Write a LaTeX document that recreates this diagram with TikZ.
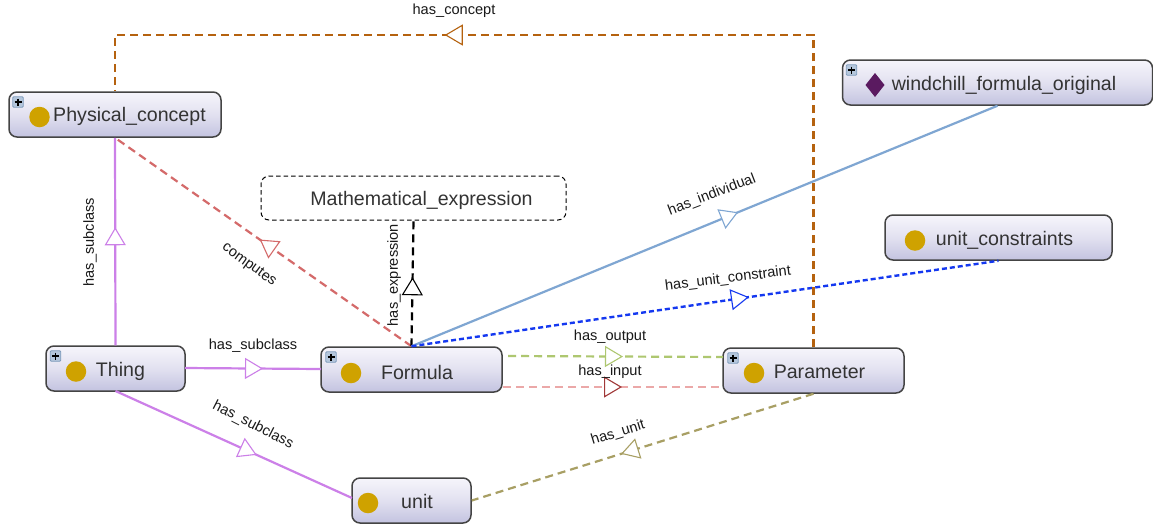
\documentclass[tikz,border=0pt]{standalone}
\usepackage{fontspec}
\setmainfont{Liberation Sans}
\usetikzlibrary{arrows.meta,decorations.markings,calc}
\definecolor{cgold}{HTML}{CFA200}
\definecolor{cplum}{HTML}{5A1A60}
\definecolor{cpurple}{HTML}{CC80E8}
\definecolor{cred}{HTML}{D46A6A}
\definecolor{csoft}{HTML}{7FA6D2}
\definecolor{cblue}{HTML}{1438F0}
\definecolor{cgreen}{HTML}{AEC770}
\definecolor{cpink}{HTML}{EBA8A8}
\definecolor{cdarkred}{HTML}{A03838}
\definecolor{cbrown}{HTML}{B5620F}
\definecolor{colive}{HTML}{A89F64}
\definecolor{cedge}{HTML}{444444}
\definecolor{ctop}{HTML}{F6F5FB}
\definecolor{cmid}{HTML}{E2E1F0}
\definecolor{cbot}{HTML}{C3C3E0}
\definecolor{cplusf}{HTML}{B4C6DC}
\definecolor{cplusd}{HTML}{7F9CBC}
\tikzset{
  box/.style={draw=cedge,line width=1.5pt,rounded corners=8pt,inner sep=0pt,top color=ctop,bottom color=cbot,middle color=cmid},
  dashbox/.style={draw=black,line width=1pt,dash pattern=on 4.5pt off 3pt,rounded corners=8pt,inner sep=0pt},
  plus/.style={draw=cplusd,fill=cplusf,line width=0.8pt,minimum size=10.5pt,inner sep=0pt,rounded corners=1pt},
  dot/.style={circle,fill=cgold,minimum size=20.5pt,inner sep=0pt},
  diam/.style={fill=cplum,draw=none},
  nlabel/.style={font=\fontsize{19.6}{22}\selectfont,text=black!80,inner sep=0pt},
  elabel/.style={font=\fontsize{14.6}{17}\selectfont,text=black!90,inner sep=0pt},
  dsh/.style={dash pattern=on 8pt off 5pt},
  tri/.style n args={2}{postaction={decorate,decoration={markings,mark=at position #1 with {\arrow[solid]{Triangle[open,fill=white,length=18pt,width=21pt,line width=1.1pt,color=#2,fill=white]}}}}}
}
\newcommand{\plusmark}[2]{\draw[black,line width=1.1pt] (#1-3.5,#2) -- (#1+3.5,#2) (#1,#2-3.5) -- (#1,#2+3.5);}
\begin{document}
\begin{tikzpicture}[x=1pt,y=-1pt]
\useasboundingbox (0,0) rectangle (1153,523);
\fill[white] (0,0) rectangle (1153,523);
\node[box,minimum width=212pt,minimum height=45pt] (pc) at (115,114.5) {};
\node[box,minimum width=139pt,minimum height=45pt] (th) at (115.5,368.5) {};
\node[box,minimum width=181pt,minimum height=45pt] (fo) at (411.5,369.5) {};
\node[box,minimum width=181pt,minimum height=45pt] (pa) at (813.5,370.5) {};
\node[box,minimum width=119pt,minimum height=45pt] (un) at (411.5,500.5) {};
\node[box,minimum width=227pt,minimum height=45pt] (uc) at (998.5,237.5) {};
\node[box,minimum width=310pt,minimum height=45pt] (wi) at (997.5,82.5) {};
\node[dashbox,minimum width=305pt,minimum height=44pt] (me) at (413.5,198) {};
\coordinate (foR) at (508,356);
\coordinate (paL) at (723,357);
\coordinate (foR2) at (503,387);
\coordinate (paL2) at (723,387);
\coordinate (thR) at (185,368);
\coordinate (foL) at (321,369);
\coordinate (thS) at (115.5,391);
\coordinate (unL) at (352,498);
\coordinate (up1) at (813.5,35);
\coordinate (up2) at (115,35);
\draw[cpurple,line width=2.2pt,tri={118pt}{cpurple}] (th.north) -- (pc.south);
\draw[cpurple,line width=2.2pt,tri={78pt}{cpurple}] (thR) -- (foL);
\draw[cpurple,line width=2.2pt,tri={155pt}{cpurple}] (thS) -- (unL);
\draw[cred,line width=2.2pt,dsh,tri={185.5pt}{cred}] (fo.north) -- (pc.south);
\draw[black,line width=2.2pt,dsh,tri={69pt}{black}] (fo.north) -- (me.south);
\draw[csoft,line width=2.2pt,tri={353pt}{csoft}] (fo.north) -- (wi.south);
\draw[cblue,line width=2.4pt,dash pattern=on 5pt off 3pt,tri={341pt}{cblue}] (fo.north) -- (uc.south);
\draw[cgreen,line width=2.2pt,dsh,tri={115pt}{cgreen}] (foR) -- (paL);
\draw[cpink,line width=2.2pt,dsh,tri={119pt}{cdarkred}] (foR2) -- (paL2);
\draw[colive,line width=2.2pt,dsh,tri={201.6pt}{colive}] (pa.south) -- (un.east);
\draw[cbrown,line width=2.2pt,dsh,tri={681pt}{cbrown}] (pa.north) -- (up1) -- (up2) -- (pc.north);
\node[plus] (p1) at (18,102) {};
\node[plus] (p2) at (55.5,356) {};
\node[plus] (p3) at (331,357) {};
\node[plus] (p4) at (733,358) {};
\node[plus] (p5) at (851.5,70) {};
\plusmark{18}{102}
\plusmark{55.5}{356}
\plusmark{331}{357}
\plusmark{733}{358}
\plusmark{851.5}{70}
\node[dot] (d1) at (39.5,117) {};
\node[dot] (d2) at (76,371.5) {};
\node[dot] (d3) at (351,373) {};
\node[dot] (d4) at (754,373) {};
\node[dot] (d5) at (368,503) {};
\node[dot] (d6) at (915,240.5) {};
\fill[diam] (875,73) -- (884.5,85) -- (875,97) -- (865.5,85) -- cycle;
\node[nlabel] (t1) at (129.5,116.5) {Physical\_concept};
\node[nlabel] (t2) at (120.5,371.5) {Thing};
\node[nlabel] (t3) at (417,372) {Formula};
\node[nlabel] (t4) at (819.5,371.5) {Parameter};
\node[nlabel] (t5) at (417,501.5) {unit};
\node[nlabel] (t6) at (1004.5,240) {unit\_constraints};
\node[nlabel] (t7) at (1004,85) {windchill\_formula\_original};
\node[nlabel] (t8) at (421.5,200) {Mathematical\_expression};
\node[elabel] (l1) at (454,10.5) {has\_concept};
\node[elabel,rotate=90] (l2) at (90,242) {has\_subclass};
\node[elabel] (l3) at (253,346) {has\_subclass};
\node[elabel,rotate=-27] (l4) at (253,425) {has\_subclass};
\node[elabel,rotate=-36] (l5) at (249,265) {computes};
\node[elabel,rotate=90] (l6) at (394,275) {has\_expression};
\node[elabel,rotate=21] (l7) at (712,195) {has\_individual};
\node[elabel,rotate=7] (l8) at (728,279) {has\_unit\_constraint};
\node[elabel] (l9) at (610,337) {has\_output};
\node[elabel] (l10) at (610,372) {has\_input};
\node[elabel,rotate=17] (l11) at (618,433) {has\_unit};
\end{tikzpicture}
\end{document}
